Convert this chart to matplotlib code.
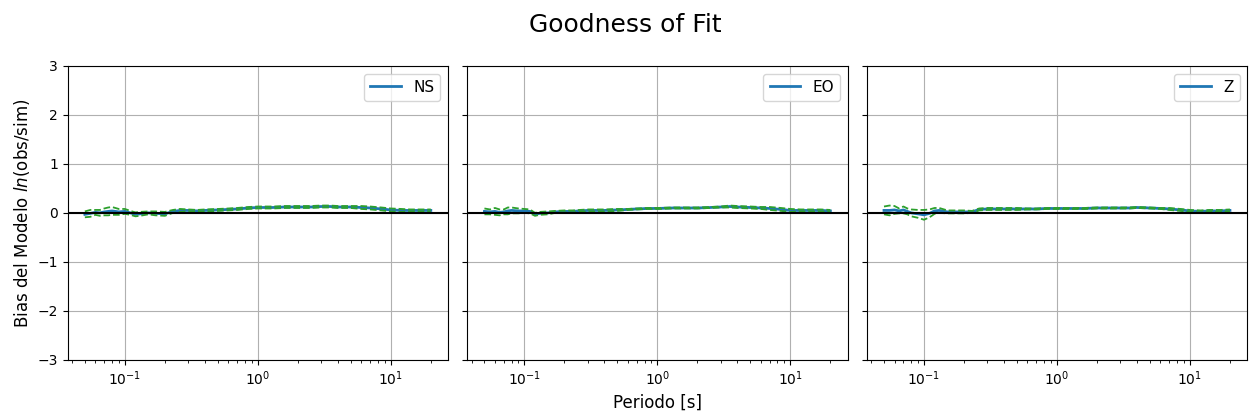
import numpy as np
import matplotlib.pyplot as plt

periods = [0.05, 0.055, 0.06, 0.065, 0.07, 0.075, 0.08, 0.09, 0.1, 0.11, 0.12, 0.13,
           0.15, 0.17, 0.2, 0.23, 0.26, 0.3, 0.35, 0.4, 0.5, 0.6, 0.7, 0.85, 1.0,
           1.3, 1.6, 2.0, 2.5, 3.0, 3.5, 4.0, 5.0, 6.0, 7.0, 8.5, 10.0, 12.0, 14.0, 17.0, 20.0]

components = ["NS", "EO", "Z"]

ns_mean = [-0.03, -0.01, 0.01, 0.0, 0.02, 0.03, 0.04, 0.02, 0.03, 0.0, -0.03, -0.02,
           0.0, -0.01, -0.02, 0.03, 0.05, 0.05, 0.04, 0.05, 0.06, 0.07, 0.08, 0.10, 0.11,
           0.11, 0.12, 0.12, 0.12, 0.13, 0.13, 0.12, 0.12, 0.11, 0.10, 0.08, 0.06, 0.05, 0.05, 0.05, 0.05]
ns_std = [0.06, 0.07, 0.05, 0.06, 0.07, 0.08, 0.08, 0.06, 0.05, 0.04, 0.04, 0.04,
          0.03, 0.04, 0.04, 0.03, 0.03, 0.02, 0.02, 0.02, 0.02, 0.02, 0.02, 0.02, 0.02,
          0.02, 0.02, 0.02, 0.02, 0.02, 0.02, 0.02, 0.02, 0.03, 0.03, 0.03, 0.03, 0.03, 0.02, 0.02, 0.02]

eo_mean = [0.03, 0.02, 0.03, 0.01, 0.02, 0.04, 0.05, 0.04, 0.04, 0.03, -0.03, -0.01,
           0.0, 0.02, 0.03, 0.03, 0.04, 0.05, 0.05, 0.05, 0.06, 0.07, 0.08, 0.09, 0.09,
           0.10, 0.10, 0.10, 0.11, 0.12, 0.13, 0.12, 0.11, 0.10, 0.09, 0.07, 0.05, 0.05, 0.05, 0.05, 0.04]
eo_std = [0.06, 0.05, 0.07, 0.06, 0.05, 0.07, 0.06, 0.05, 0.04, 0.04, 0.03, 0.03,
          0.03, 0.02, 0.02, 0.02, 0.02, 0.02, 0.02, 0.02, 0.02, 0.01, 0.01, 0.01, 0.01,
          0.01, 0.01, 0.01, 0.01, 0.01, 0.02, 0.02, 0.02, 0.02, 0.03, 0.03, 0.03, 0.02, 0.02, 0.02, 0.02]

z_mean = [0.05, 0.05, 0.06, 0.04, 0.06, 0.03, 0.0, -0.02, -0.04, -0.01, 0.04, 0.05,
          0.02, 0.02, 0.02, 0.02, 0.07, 0.08, 0.08, 0.08, 0.08, 0.08, 0.08, 0.09, 0.09,
          0.09, 0.09, 0.10, 0.10, 0.10, 0.10, 0.11, 0.10, 0.09, 0.08, 0.06, 0.04, 0.03, 0.04, 0.04, 0.05]
z_std = [0.08, 0.10, 0.08, 0.05, 0.07, 0.06, 0.07, 0.08, 0.10, 0.08, 0.06, 0.05,
         0.03, 0.03, 0.03, 0.02, 0.02, 0.02, 0.02, 0.02, 0.02, 0.01, 0.01, 0.01, 0.01,
         0.01, 0.01, 0.01, 0.01, 0.01, 0.01, 0.01, 0.01, 0.01, 0.02, 0.02, 0.02, 0.02, 0.02, 0.02, 0.02]

means = [ns_mean, eo_mean, z_mean]
stds = [ns_std, eo_std, z_std]

fig, axes = plt.subplots(1, 3, figsize=(12.51, 4.17), dpi=100, sharey=True)
fig.subplots_adjust(left=0.054, right=0.997, top=0.842, bottom=0.137, wspace=0.05)

for ax, comp, m, s in zip(axes, components, means, stds):
    m = np.array(m)
    s = np.array(s)
    ax.plot(periods, m, color="tab:blue", lw=2, label=comp)
    ax.plot(periods, m + s, color="tab:green", ls="--", lw=1.3)
    ax.plot(periods, m - s, color="tab:green", ls="--", lw=1.3)
    ax.axhline(0, color="black", lw=1.5)
    ax.set_xscale("log")
    ax.set_ylim(-3, 3)
    ax.grid(True)
    ax.legend(loc="upper right", fontsize=11)

axes[0].set_ylabel("Bias del Modelo $ln$(obs/sim)", fontsize=12)
axes[1].set_xlabel("Periodo [s]", fontsize=12)
fig.suptitle("Goodness of Fit", fontsize=18, y=0.97)

plt.savefig("out.png")
